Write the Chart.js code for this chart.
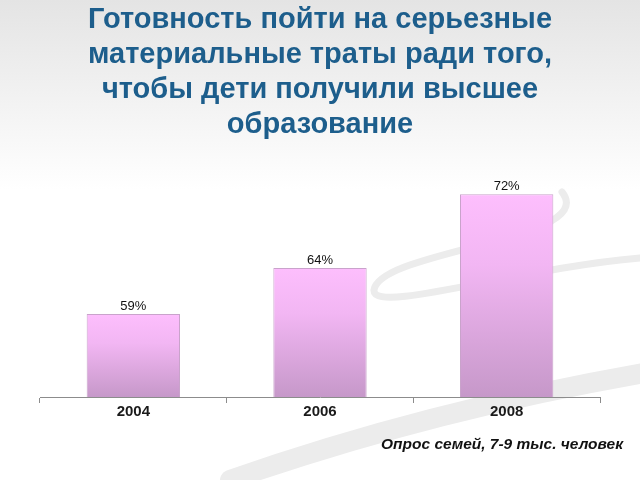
<!DOCTYPE html>
<html>
<head>
<meta charset="utf-8">
<script src="https://cdn.jsdelivr.net/npm/chart.js@4"></script>
<style>
  body { margin: 0; background: #fff; }
  #wrap { width: 640px; height: 480px; }
</style>
</head>
<body>
<div id="wrap"><canvas id="myChart" width="640" height="480"></canvas></div>
<script>
/* data */
const years = ['2004', '2006', '2008'];
const shares = [59, 64, 72];
const titleLines = [
  'Готовность пойти на серьезные',
  'материальные траты ради того,',
  'чтобы дети получили высшее',
  'образование'
];
const footnote = 'Опрос семей, 7-9 тыс. человек';

const FONT = "'Liberation Sans', Arial, sans-serif";

/* page background: grey fade on top and the light swoosh */
const backdrop = {
  id: 'backdrop',
  beforeDraw: function (chart) {
    const ctx = chart.ctx;
    ctx.save();
    ctx.fillStyle = '#fff';
    ctx.fillRect(0, 0, chart.width, chart.height);
    const g = ctx.createLinearGradient(0, 0, 0, 190);
    g.addColorStop(0, '#e4e4e4');
    g.addColorStop(1, '#ffffff');
    ctx.fillStyle = g;
    ctx.fillRect(0, 0, chart.width, 190);

    ctx.strokeStyle = '#ececec';
    ctx.lineCap = 'round';
    // upper loop
    ctx.lineWidth = 7;
    ctx.beginPath();
    ctx.moveTo(562, 192);
    ctx.bezierCurveTo(600, 240, 380, 250, 374, 290);
    ctx.bezierCurveTo(372, 315, 520, 268, 640, 258);
    ctx.stroke();
    // lower band
    ctx.lineWidth = 20;
    ctx.beginPath();
    ctx.moveTo(230, 480);
    ctx.quadraticCurveTo(430, 410, 650, 372);
    ctx.stroke();
    ctx.restore();
  }
};

/* value labels above the bars and the footnote */
const labels = {
  id: 'labels',
  afterDatasetsDraw: function (chart) {
    const ctx = chart.ctx;
    ctx.save();
    ctx.font = '13px ' + FONT;
    ctx.fillStyle = '#111';
    ctx.textAlign = 'center';
    ctx.textBaseline = 'bottom';
    chart.getDatasetMeta(0).data.forEach(function (bar, i) {
      ctx.fillText(shares[i] + '%', bar.x, bar.y - 1);
    });
    ctx.font = 'italic bold 15.5px ' + FONT;
    ctx.textAlign = 'right';
    ctx.textBaseline = 'middle';
    ctx.fillText(footnote, 623, 445);
    ctx.restore();
  }
};

const ctx = document.getElementById('myChart').getContext('2d');

const chart = new Chart(ctx, {
  type: 'bar',
  data: {
    labels: years,
    datasets: [{
      data: shares,
      backgroundColor: function (c) {
        const chart = c.chart;
        if (!chart.chartArea || c.dataIndex === undefined) return '#e8b0ea';
        const y = chart.scales.y;
        const top = y.getPixelForValue(shares[c.dataIndex]);
        const bottom = y.getPixelForValue(y.min);
        const g = chart.ctx.createLinearGradient(0, top, 0, bottom);
        g.addColorStop(0, '#fdbefd');
        g.addColorStop(0.35, '#f2b6f3');
        g.addColorStop(1, '#c698c9');
        return g;
      },
      borderColor: '#c9a3cb',
      borderWidth: 1,
      categoryPercentage: 1,
      barPercentage: 0.5
    }]
  },
  plugins: [backdrop, labels],
  options: {
    responsive: false,
    animation: false,
    layout: { padding: { left: 40, right: 40, bottom: 59 } },
    plugins: {
      legend: { display: false },
      tooltip: { enabled: false },
      title: {
        display: true,
        text: titleLines,
        color: '#1d5e8c',
        font: { family: FONT, size: 29, weight: 'bold', lineHeight: 1.2 },
        padding: { top: 3, bottom: 6 }
      }
    },
    scales: {
      x: {
        grid: {
          offset: true,
          drawOnChartArea: false,
          drawTicks: true,
          tickLength: 6,
          color: '#8c8c8c'
        },
        border: { color: '#8c8c8c' },
        ticks: {
          padding: 0,
          color: '#1a1a1a',
          font: { family: FONT, size: 15, weight: 'bold' }
        }
      },
      y: {
        display: false,
        min: 50,
        max: 77
      }
    }
  }
});
</script>
</body>
</html>
